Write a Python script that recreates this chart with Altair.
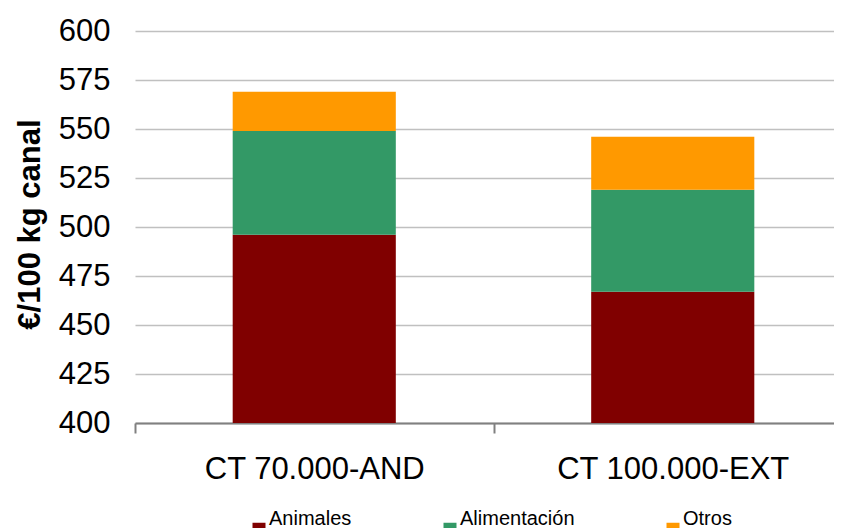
import altair as alt
import pandas as pd

categories = ["CT 70.000-AND", "CT 100.000-EXT"]
series = ["Animales", "Alimentación", "Otros"]
animales = [496, 467]
alimentacion = [53, 52]
otros = [20, 27]
colors = ["#800000", "#339966", "#FF9900"]
y_ticks = [400, 425, 450, 475, 500, 525, 550, 575, 600]

rows = []
for i, c in enumerate(categories):
    for k, (s, vals) in enumerate(zip(series, [animales, alimentacion, otros])):
        rows.append({"cat": c, "serie": s, "valor": vals[i], "orden": k})
df = pd.DataFrame(rows)

FONT = "Liberation Sans"

chart = alt.Chart(df).mark_bar(clip=True, width={"band": 0.455}).encode(
    x=alt.X(
        "cat:N",
        sort=categories,
        scale=alt.Scale(paddingInner=0, paddingOuter=0),
        axis=alt.Axis(
            title=None, tickBand="extent", labelAngle=0, labelFontSize=31,
            labelColor="black", labelPadding=21, tickSize=10, tickColor="#808080",
            tickWidth=2, domainColor="#808080", domainWidth=2, grid=False,
            labelFont=FONT, labelLimit=600,
        ),
    ),
    y=alt.Y(
        "valor:Q",
        stack="zero",
        scale=alt.Scale(domain=[400, 600], nice=False, zero=False),
        axis=alt.Axis(
            values=y_ticks, title="€/100 kg canal", grid=True, gridColor="#c0c0c0",
            gridWidth=1.5, domain=False, ticks=False, labelPadding=25,
            labelFontSize=31, labelColor="black", labelFont=FONT,
            titleFont=FONT, titleFontSize=31, titleFontWeight="bold",
            titleColor="black", titleX=-105, titleY=193, titleAngle=270,
            titleAlign="center", titleBaseline="middle",
        ),
    ),
    color=alt.Color(
        "serie:N",
        sort=series,
        scale=alt.Scale(domain=series, range=colors),
        legend=alt.Legend(
            title=None, orient="none", legendX=114, legendY=488,
            direction="horizontal", symbolType="square", symbolSize=169,
            symbolStrokeWidth=0, labelFontSize=20, labelFont=FONT,
            labelColor="black", columnPadding=88, labelOffset=0,
            labelBaseline="bottom",
        ),
    ),
    order=alt.Order("orden:Q"),
).properties(
    width=717,
    height=392,
    autosize=alt.AutoSizeParams(type="none"),
    padding={"left": 127, "top": 23, "right": -18, "bottom": 105},
).configure_view(stroke=None)

chart.save("out.html", embed_options={"renderer": "svg", "actions": False})
